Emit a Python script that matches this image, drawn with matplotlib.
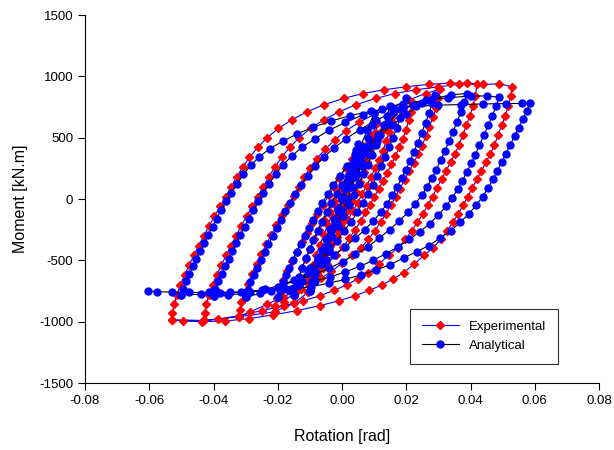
import matplotlib.pyplot as plt
import numpy as np
from matplotlib.ticker import FormatStrFormatter

plt.rcParams['font.family'] = ['Liberation Sans', 'DejaVu Sans']
plt.rcParams['axes.unicode_minus'] = False

# Experimental cycles (rotation [rad], moment [kN.m]): loading branch then unloading branch
exp_rot_1 = [-0.0060, -0.0055, -0.0048, -0.0040, -0.0031, -0.0021, -0.0011, 0.0000, 0.0011, 0.0023, 0.0036, 0.0050, 0.0065,
             0.0058, 0.0049, 0.0039, 0.0028, 0.0017, 0.0005, -0.0007, -0.0019, -0.0032, -0.0046, -0.0060]
exp_mom_1 = [-560, -480, -400, -320, -240, -160, -80, 0, 80, 160, 240, 330, 430,
             350, 270, 190, 110, 30, -50, -130, -210, -300, -420, -560]

exp_rot_2 = [-0.0105, -0.0103, -0.0097, -0.0089, -0.0080, -0.0069, -0.0057, -0.0045, -0.0032, -0.0018,
             -0.0004, 0.0010, 0.0025, 0.0041, 0.0058, 0.0076, 0.0094, 0.0110,
             0.0105, 0.0097, 0.0088, 0.0078, 0.0067, 0.0055, 0.0043, 0.0030, 0.0017, 0.0003,
             -0.0011, -0.0026, -0.0042, -0.0058, -0.0075, -0.0092, -0.0105]
exp_mom_2 = [-760, -690, -615, -535, -455, -375, -295, -215, -135, -55,
             25, 105, 185, 265, 345, 430, 525, 620,
             540, 460, 380, 300, 220, 140, 60, -20, -100, -180,
             -260, -340, -420, -500, -580, -670, -760]

exp_rot_3 = [-0.0150, -0.0148, -0.0143, -0.0135, -0.0125, -0.0113, -0.0100, -0.0086, -0.0071, -0.0056,
             -0.0040, -0.0024, -0.0008, 0.0008, 0.0025, 0.0043, 0.0063, 0.0086, 0.0112, 0.0138, 0.0160,
             0.0155, 0.0147, 0.0138, 0.0127, 0.0115, 0.0103, 0.0090, 0.0077, 0.0063, 0.0049,
             0.0034, 0.0018, 0.0001, -0.0017, -0.0036, -0.0056, -0.0078, -0.0102, -0.0127, -0.0150]
exp_mom_3 = [-850, -790, -720, -645, -565, -490, -410, -330, -250, -170,
             -95, -20, 55, 130, 205, 280, 355, 420, 500, 590, 690,
             620, 545, 470, 395, 320, 250, 180, 110, 40, -30,
             -100, -170, -240, -310, -385, -460, -540, -625, -730, -850]

exp_rot_4 = [-0.0210, -0.0208, -0.0203, -0.0194, -0.0183, -0.0170, -0.0156, -0.0141, -0.0126, -0.0110,
             -0.0094, -0.0077, -0.0059, -0.0040, -0.0025, -0.0008, 0.0011, 0.0032, 0.0057, 0.0087,
             0.0120, 0.0155, 0.0190, 0.0220,
             0.0215, 0.0208, 0.0199, 0.0189, 0.0178, 0.0166, 0.0154, 0.0141, 0.0128, 0.0115,
             0.0101, 0.0088, 0.0073, 0.0058, 0.0041, 0.0023, 0.0003, -0.0020, -0.0047, -0.0077,
             -0.0110, -0.0145, -0.0180, -0.0210]
exp_mom_4 = [-920, -870, -805, -735, -660, -585, -505, -430, -350, -275,
             -195, -120, -45, 30, 100, 175, 250, 325, 400, 475,
             550, 630, 710, 780,
             710, 640, 565, 490, 420, 350, 285, 215, 150, 85,
             20, -45, -110, -180, -250, -320, -390, -460, -530, -600,
             -670, -750, -840, -920]

exp_rot_5 = [-0.0320, -0.0318, -0.0313, -0.0304, -0.0293, -0.0280, -0.0266, -0.0251, -0.0236, -0.0220,
             -0.0204, -0.0187, -0.0169, -0.0150, -0.0135, -0.0118, -0.0099, -0.0078, -0.0053, -0.0023,
             0.0012, 0.0053, 0.0100, 0.0155, 0.0210, 0.0260, 0.0305,
             0.0300, 0.0293, 0.0283, 0.0272, 0.0261, 0.0249, 0.0237, 0.0223, 0.0209, 0.0195,
             0.0180, 0.0167, 0.0152, 0.0137, 0.0120, 0.0102, 0.0082, 0.0058, 0.0030, 0.0000,
             -0.0033, -0.0065, -0.0100, -0.0140, -0.0185, -0.0235, -0.0285, -0.0320]
exp_mom_5 = [-960, -905, -840, -765, -690, -610, -530, -450, -370, -290,
             -210, -130, -50, 25, 100, 180, 255, 330, 405, 480,
             555, 625, 690, 750, 810, 860, 895,
             820, 745, 665, 590, 510, 435, 365, 295, 225, 155,
             85, 20, -50, -120, -190, -260, -330, -400, -460, -525,
             -590, -645, -700, -750, -800, -860, -920, -960]

exp_rot_6 = [-0.0430, -0.0428, -0.0423, -0.0414, -0.0403, -0.0390, -0.0376, -0.0361, -0.0346, -0.0330,
             -0.0314, -0.0297, -0.0279, -0.0260, -0.0245, -0.0228, -0.0209, -0.0188, -0.0163, -0.0133,
             -0.0098, -0.0057, -0.0010, 0.0045, 0.0105, 0.0165, 0.0230, 0.0300, 0.0365, 0.0420,
             0.0415, 0.0408, 0.0398, 0.0387, 0.0376, 0.0364, 0.0352, 0.0338, 0.0324, 0.0310,
             0.0295, 0.0282, 0.0267, 0.0252, 0.0235, 0.0217, 0.0197, 0.0173, 0.0145, 0.0115,
             0.0082, 0.0050, 0.0015, -0.0025, -0.0070, -0.0120, -0.0180, -0.0250, -0.0320, -0.0385, -0.0430]
exp_mom_6 = [-990, -930, -860, -780, -700, -620, -540, -460, -380, -300,
             -220, -140, -60, 20, 100, 180, 260, 340, 420, 500,
             575, 645, 710, 770, 820, 860, 890, 915, 935, 935,
             840, 760, 680, 600, 520, 440, 370, 300, 230, 160,
             90, 20, -50, -120, -190, -260, -330, -400, -460, -530,
             -600, -650, -700, -745, -790, -830, -870, -910, -950, -980, -990]

exp_rot_7 = [-0.0530, -0.0528, -0.0523, -0.0514, -0.0503, -0.0490, -0.0476, -0.0461, -0.0446, -0.0430,
             -0.0414, -0.0397, -0.0379, -0.0360, -0.0345, -0.0328, -0.0309, -0.0288, -0.0263, -0.0233,
             -0.0198, -0.0157, -0.0110, -0.0055, 0.0005, 0.0065, 0.0130, 0.0200, 0.0270, 0.0335,
             0.0390, 0.0440, 0.0490, 0.0530,
             0.0525, 0.0518, 0.0508, 0.0497, 0.0486, 0.0474, 0.0462, 0.0448, 0.0434, 0.0420,
             0.0405, 0.0392, 0.0377, 0.0362, 0.0345, 0.0327, 0.0307, 0.0283, 0.0255, 0.0225,
             0.0192, 0.0160, 0.0125, 0.0085, 0.0040, -0.0010, -0.0070, -0.0140, -0.0215, -0.0290,
             -0.0365, -0.0435, -0.0495, -0.0530]
exp_mom_7 = [-985, -930, -860, -780, -700, -620, -540, -460, -380, -300,
             -220, -140, -60, 20, 100, 180, 260, 340, 420, 500,
             575, 645, 710, 770, 820, 860, 890, 915, 935, 945,
             945, 935, 938, 915,
             840, 760, 680, 600, 520, 440, 370, 300, 230, 160,
             90, 20, -50, -120, -190, -260, -330, -400, -460, -530,
             -600, -650, -700, -745, -790, -830, -870, -910, -945, -975,
             -995, -1000, -995, -985]

# Analytical cycles
ana_rot_1 = [0.0000, 0.0009, 0.0018, 0.0027, 0.0036, 0.0045, 0.0050,
             0.0042, 0.0032, 0.0022, 0.0011, 0.0000, -0.0011, -0.0022, -0.0033, -0.0043, -0.0050]
ana_mom_1 = [0, 80, 160, 240, 320, 400, 450,
             370, 280, 190, 100, 10, -80, -170, -260, -380, -500]

ana_rot_2 = [-0.0050, -0.0042, -0.0033, -0.0023, -0.0012, 0.0000, 0.0013, 0.0027, 0.0042, 0.0058, 0.0078, 0.0100,
             0.0092, 0.0082, 0.0071, 0.0059, 0.0046, 0.0032, 0.0017, 0.0001, -0.0016, -0.0034, -0.0053, -0.0074, -0.0100]
ana_mom_2 = [-500, -400, -300, -200, -100, 0, 100, 200, 310, 430, 560, 700,
             600, 500, 400, 300, 200, 100, 0, -100, -200, -300, -400, -520, -750]

ana_rot_3 = [-0.0100, -0.0093, -0.0084, -0.0074, -0.0063, -0.0051, -0.0038, -0.0024, -0.0009, 0.0007,
             0.0024, 0.0042, 0.0062, 0.0084, 0.0108, 0.0130, 0.0150,
             0.0141, 0.0130, 0.0118, 0.0106, 0.0093, 0.0080, 0.0066, 0.0052, 0.0037, 0.0021,
             0.0004, -0.0014, -0.0033, -0.0053, -0.0075, -0.0099, -0.0125, -0.0150]
ana_mom_3 = [-750, -670, -585, -500, -415, -330, -245, -160, -75, 10,
             95, 180, 270, 365, 470, 600, 760,
             680, 600, 520, 440, 360, 280, 200, 120, 35, -50,
             -135, -220, -305, -390, -475, -565, -665, -780]

ana_rot_4 = [-0.0150, -0.0143, -0.0134, -0.0124, -0.0113, -0.0101, -0.0089, -0.0076, -0.0062, -0.0048,
             -0.0033, -0.0017, 0.0000, 0.0018, 0.0038, 0.0060, 0.0085, 0.0113, 0.0145, 0.0180, 0.0200,
             0.0191, 0.0181, 0.0170, 0.0159, 0.0147, 0.0135, 0.0122, 0.0109, 0.0095, 0.0080,
             0.0064, 0.0047, 0.0028, 0.0007, -0.0016, -0.0042, -0.0070, -0.0100, -0.0132, -0.0167, -0.0200]
ana_mom_4 = [-780, -710, -635, -560, -485, -410, -335, -260, -185, -110,
             -35, 40, 115, 190, 270, 350, 435, 525, 620, 730, 820,
             740, 660, 580, 500, 420, 340, 265, 190, 115, 40,
             -35, -110, -185, -260, -340, -420, -500, -580, -660, -740, -800]

ana_rot_5 = [-0.0200, -0.0194, -0.0185, -0.0175, -0.0164, -0.0153, -0.0141, -0.0129, -0.0116, -0.0103,
             -0.0090, -0.0076, -0.0061, -0.0045, -0.0027, -0.0007, 0.0016, 0.0043, 0.0075, 0.0112,
             0.0155, 0.0200, 0.0250, 0.0290,
             0.0281, 0.0271, 0.0260, 0.0248, 0.0236, 0.0224, 0.0212, 0.0199, 0.0186, 0.0172,
             0.0157, 0.0140, 0.0120, 0.0097, 0.0071, 0.0042, 0.0010, -0.0025, -0.0063, -0.0105,
             -0.0150, -0.0200, -0.0255, -0.0300]
ana_mom_5 = [-800, -740, -680, -620, -560, -500, -435, -370, -305, -235,
             -170, -100, -30, 40, 115, 190, 265, 345, 425, 510,
             600, 690, 780, 850,
             780, 700, 620, 540, 460, 385, 310, 240, 170, 100,
             30, -40, -110, -180, -250, -320, -390, -460, -530, -600,
             -660, -720, -770, -800]

ana_rot_6 = [-0.0300, -0.0294, -0.0285, -0.0275, -0.0264, -0.0253, -0.0241, -0.0229, -0.0216, -0.0203,
             -0.0190, -0.0176, -0.0161, -0.0145, -0.0127, -0.0107, -0.0084, -0.0057, -0.0025, 0.0012,
             0.0055, 0.0105, 0.0160, 0.0220, 0.0280, 0.0340, 0.0390,
             0.0381, 0.0370, 0.0358, 0.0346, 0.0333, 0.0320, 0.0307, 0.0294, 0.0280, 0.0265,
             0.0248, 0.0228, 0.0205, 0.0178, 0.0148, 0.0115, 0.0080, 0.0042, 0.0002, -0.0040,
             -0.0085, -0.0133, -0.0185, -0.0240, -0.0300, -0.0355, -0.0400]
ana_mom_6 = [-800, -740, -680, -620, -560, -500, -435, -370, -305, -235,
             -170, -100, -30, 40, 115, 190, 265, 340, 415, 490,
             565, 640, 710, 770, 815, 850, 860,
             790, 710, 630, 550, 470, 390, 315, 240, 170, 100,
             30, -40, -110, -180, -250, -320, -390, -450, -510, -565,
             -615, -660, -700, -735, -765, -785, -790]

ana_rot_7 = [-0.0400, -0.0394, -0.0385, -0.0375, -0.0364, -0.0353, -0.0341, -0.0329, -0.0316, -0.0303,
             -0.0290, -0.0276, -0.0261, -0.0245, -0.0227, -0.0207, -0.0184, -0.0157, -0.0125, -0.0085,
             -0.0040, 0.0010, 0.0065, 0.0125, 0.0190, 0.0260, 0.0330, 0.0400, 0.0450, 0.0490,
             0.0480, 0.0468, 0.0455, 0.0442, 0.0428, 0.0415, 0.0402, 0.0389, 0.0375, 0.0360,
             0.0343, 0.0323, 0.0300, 0.0273, 0.0243, 0.0210, 0.0175, 0.0137, 0.0097, 0.0055,
             0.0010, -0.0037, -0.0085, -0.0135, -0.0190, -0.0250, -0.0315, -0.0380, -0.0440, -0.0500]
ana_mom_7 = [-790, -730, -670, -610, -550, -490, -425, -360, -295, -225,
             -160, -90, -20, 50, 125, 200, 275, 350, 420, 490,
             560, 625, 685, 735, 775, 805, 825, 840, 840, 830,
             760, 680, 600, 520, 440, 360, 290, 220, 150, 80,
             10, -60, -130, -200, -265, -330, -390, -445, -500, -550,
             -595, -635, -670, -700, -725, -745, -760, -770, -778, -780]

ana_rot_8 = [-0.0500, -0.0494, -0.0485, -0.0475, -0.0464, -0.0453, -0.0441, -0.0429, -0.0416, -0.0403,
             -0.0390, -0.0376, -0.0361, -0.0345, -0.0327, -0.0307, -0.0284, -0.0257, -0.0225, -0.0185,
             -0.0140, -0.0090, -0.0035, 0.0025, 0.0090, 0.0160, 0.0230, 0.0300, 0.0370, 0.0440,
             0.0510, 0.0560, 0.0585,
             0.0575, 0.0563, 0.0550, 0.0537, 0.0523, 0.0510, 0.0497, 0.0484, 0.0470, 0.0455,
             0.0438, 0.0418, 0.0395, 0.0368, 0.0338, 0.0305, 0.0270, 0.0232, 0.0192, 0.0150,
             0.0105, 0.0058, 0.0010, -0.0040, -0.0095, -0.0155, -0.0220, -0.0285, -0.0350, -0.0415,
             -0.0475, -0.0530, -0.0575, -0.0605]
ana_mom_8 = [-780, -730, -670, -610, -550, -490, -425, -360, -295, -225,
             -160, -90, -20, 50, 125, 200, 275, 345, 410, 470,
             530, 585, 635, 680, 715, 740, 755, 765, 770, 775,
             778, 780, 780,
             720, 650, 580, 510, 440, 370, 300, 230, 160, 90,
             20, -50, -120, -190, -260, -320, -380, -430, -480, -535,
             -580, -620, -655, -685, -715, -735, -748, -755, -760, -762,
             -762, -760, -755, -750]

x_ticks = [-0.08, -0.06, -0.04, -0.02, 0.00, 0.02, 0.04, 0.06, 0.08]
y_ticks = [-1500, -1000, -500, 0, 500, 1000, 1500]

exp_rot = np.concatenate([exp_rot_1, exp_rot_2, exp_rot_3, exp_rot_4, exp_rot_5, exp_rot_6, exp_rot_7])
exp_mom = np.concatenate([exp_mom_1, exp_mom_2, exp_mom_3, exp_mom_4, exp_mom_5, exp_mom_6, exp_mom_7])
ana_rot = np.concatenate([ana_rot_1, ana_rot_2, ana_rot_3, ana_rot_4, ana_rot_5, ana_rot_6, ana_rot_7, ana_rot_8])
ana_mom = np.concatenate([ana_mom_1, ana_mom_2, ana_mom_3, ana_mom_4, ana_mom_5, ana_mom_6, ana_mom_7, ana_mom_8])

fig = plt.figure(figsize=(6.14, 4.5), dpi=100)
ax = fig.add_axes([85/614, 67/450, 514/614, 368/450])

ax.plot(exp_rot, exp_mom, color='#0000ff', lw=0.8, marker='D', ms=4.4,
        mfc='#ff0000', mec='#ff0000', label='Experimental')
ax.plot(ana_rot, ana_mom, color='black', lw=0.8, marker='o', ms=5.0,
        mfc='#0000ff', mec='#0000ff', label='Analytical')

ax.set_xlim(-0.08, 0.08)
ax.set_ylim(-1500, 1500)
ax.set_xticks(x_ticks)
ax.set_yticks(y_ticks)
ax.xaxis.set_major_formatter(FormatStrFormatter('%.2f'))
ax.tick_params(direction='out', length=5, width=0.8, labelsize=9.5, colors='black')
ax.spines['top'].set_visible(False)
ax.spines['right'].set_visible(False)

ax.set_xlabel('Rotation [rad]', fontsize=11.5, labelpad=16)
ax.set_ylabel('Moment [kN.m]', fontsize=11.5, labelpad=8)

leg = ax.legend(loc='lower right', bbox_to_anchor=(0.934, 0.035), fancybox=False,
                edgecolor='black', fontsize=9.5, handlelength=2.8, borderpad=0.9,
                labelspacing=0.5)
leg.get_frame().set_linewidth(0.8)

fig.savefig('out.png', dpi=100)
